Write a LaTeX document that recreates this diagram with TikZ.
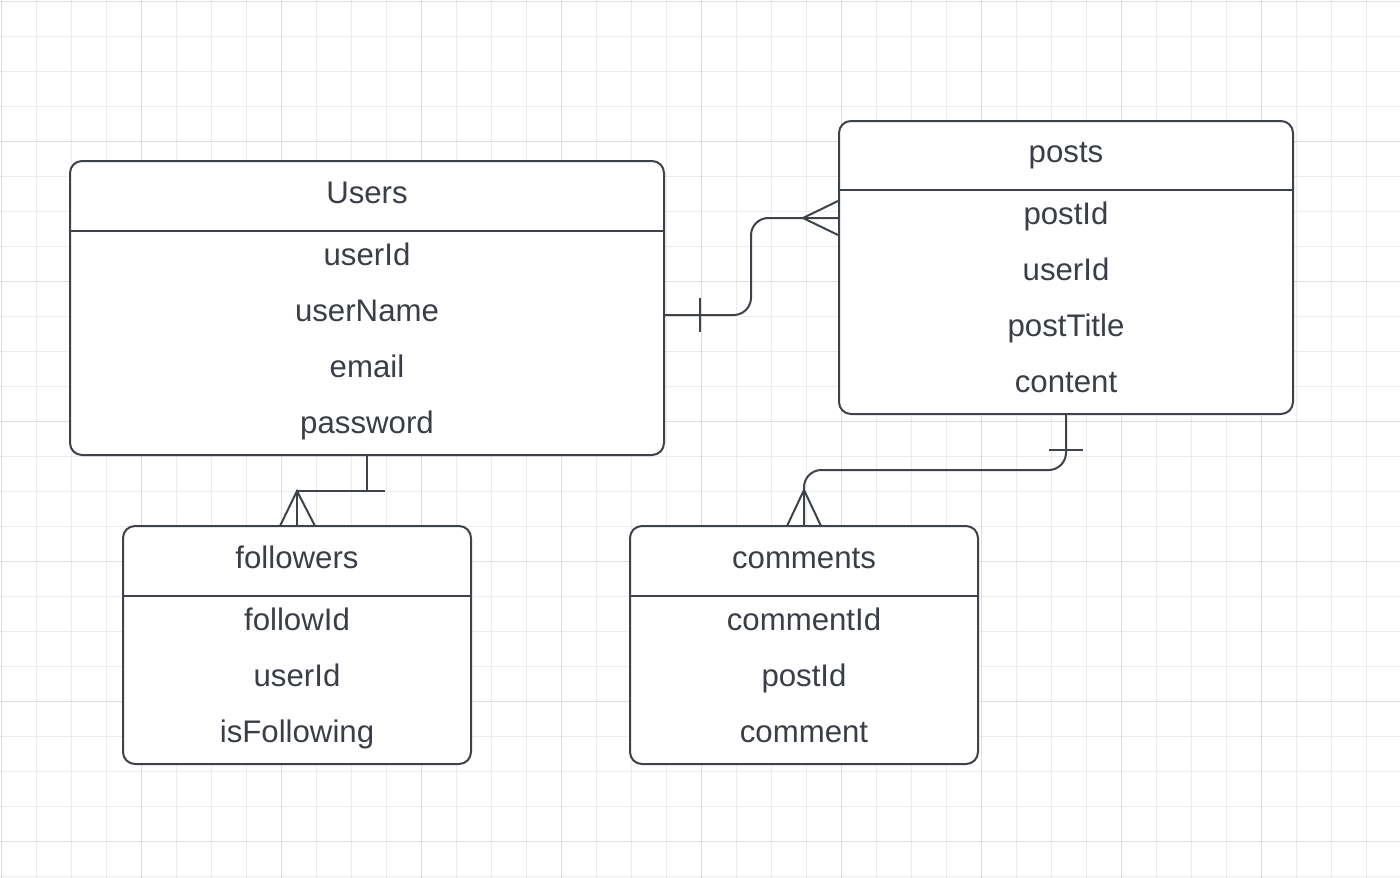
\documentclass[tikz,border=0pt]{standalone}
\usepackage{fontspec}
\setmainfont{Liberation Sans}
\definecolor{erline}{RGB}{62,66,74}
\definecolor{ertext}{RGB}{58,62,70}
\definecolor{gridminor}{RGB}{236,236,236}
\definecolor{gridmajor}{RGB}{222,222,222}
\tikzset{every picture/.style={line width=0.75pt}}
\tikzset{
  entity/.style={draw=erline, line width=1.5pt, fill=white, rounded corners=9pt, inner sep=0pt},
  attr/.style={text=ertext, font=\fontsize{23.4}{28}\selectfont, anchor=base, inner sep=0.75pt},
  rel/.style={draw=erline, line width=1.5pt},
}

\begin{document}
\begin{tikzpicture}[x=0.75pt,y=0.75pt,yscale=-1,xscale=1]
    \useasboundingbox (0,0) rectangle (1400,878);
    % Grid
    \foreach \i in {0,...,39} \draw[gridminor] (1+35*\i,0) -- (1+35*\i,878);
    \foreach \j in {0,...,25} \draw[gridminor] (0,1+35*\j) -- (1400,1+35*\j);
    \foreach \i in {0,...,9} \draw[gridmajor] (1+140*\i,0) -- (1+140*\i,878);
    \foreach \j in {0,...,6} \draw[gridmajor] (0,1+140*\j) -- (1400,1+140*\j);
    %Shape: Table Users
    \node[entity, minimum width=445.5pt, minimum height=220.5pt] (users) at (367,308) {};
    \draw[rel] (users.west |- 0,231) -- (users.east |- 0,231);
    \node[attr] (usersTitle) at (367,203) {Users};
    \foreach \t [count=\i] in {userId,userName,email,password}
        \node[attr] (users\i) at (367,209+56*\i) {\t};
    %Shape: Table posts
    \node[entity, minimum width=340.5pt, minimum height=219.75pt] (posts) at (1066,267.5) {};
    \draw[rel] (posts.west |- 0,190) -- (posts.east |- 0,190);
    \node[attr] (postsTitle) at (1066,162) {posts};
    \foreach \t [count=\i] in {postId,userId,postTitle,content}
        \node[attr] (posts\i) at (1066,168+56*\i) {\t};
    %Shape: Table followers
    \node[entity, minimum width=261pt, minimum height=178.5pt] (followers) at (297,645) {};
    \draw[rel] (followers.west |- 0,596) -- (followers.east |- 0,596);
    \node[attr] (followersTitle) at (297,568) {followers};
    \foreach \t [count=\i] in {followId,userId,isFollowing}
        \node[attr] (followers\i) at (297,574+56*\i) {\t};
    %Shape: Table comments
    \node[entity, minimum width=261pt, minimum height=178.5pt] (comments) at (804,645) {};
    \draw[rel] (comments.west |- 0,596) -- (comments.east |- 0,596);
    \node[attr] (commentsTitle) at (804,568) {comments};
    \foreach \t [count=\i] in {commentId,postId,comment}
        \node[attr] (comments\i) at (804,574+56*\i) {\t};
    % Connection points
    \coordinate (usersOut) at (users.east |- 0,315);
    \coordinate (postsIn) at (posts.west |- 0,218);
    \coordinate (usersDown) at (users.south);
    \coordinate (followersIn) at (followers.north);
    \coordinate (postsDown) at (posts.south);
    \coordinate (commentsIn) at (comments.north);
    %Connector: Users -- posts
    \draw[rel, rounded corners=13pt] (usersOut) -| (751,218) -- (postsIn);
    \draw[rel] (700,298) -- (700,332);
    \draw[rel] (postsIn |- 0,201) -- (803,218) -- (postsIn |- 0,235);
    %Connector: Users -- followers
    \draw[rel] (usersDown) -- (367,491) -- (297,491) -- (followersIn);
    \draw[rel] (350,491) -- (385,491);
    \draw[rel] (280,526) -- (297,491) -- (315,526);
    %Connector: posts -- comments
    \draw[rel, rounded corners=13pt] (postsDown) |- (804,470) -- (commentsIn);
    \draw[rel] (1049,450) -- (1083,450);
    \draw[rel] (787,526) -- (804,490) -- (821,526);
\end{tikzpicture}
\end{document}
